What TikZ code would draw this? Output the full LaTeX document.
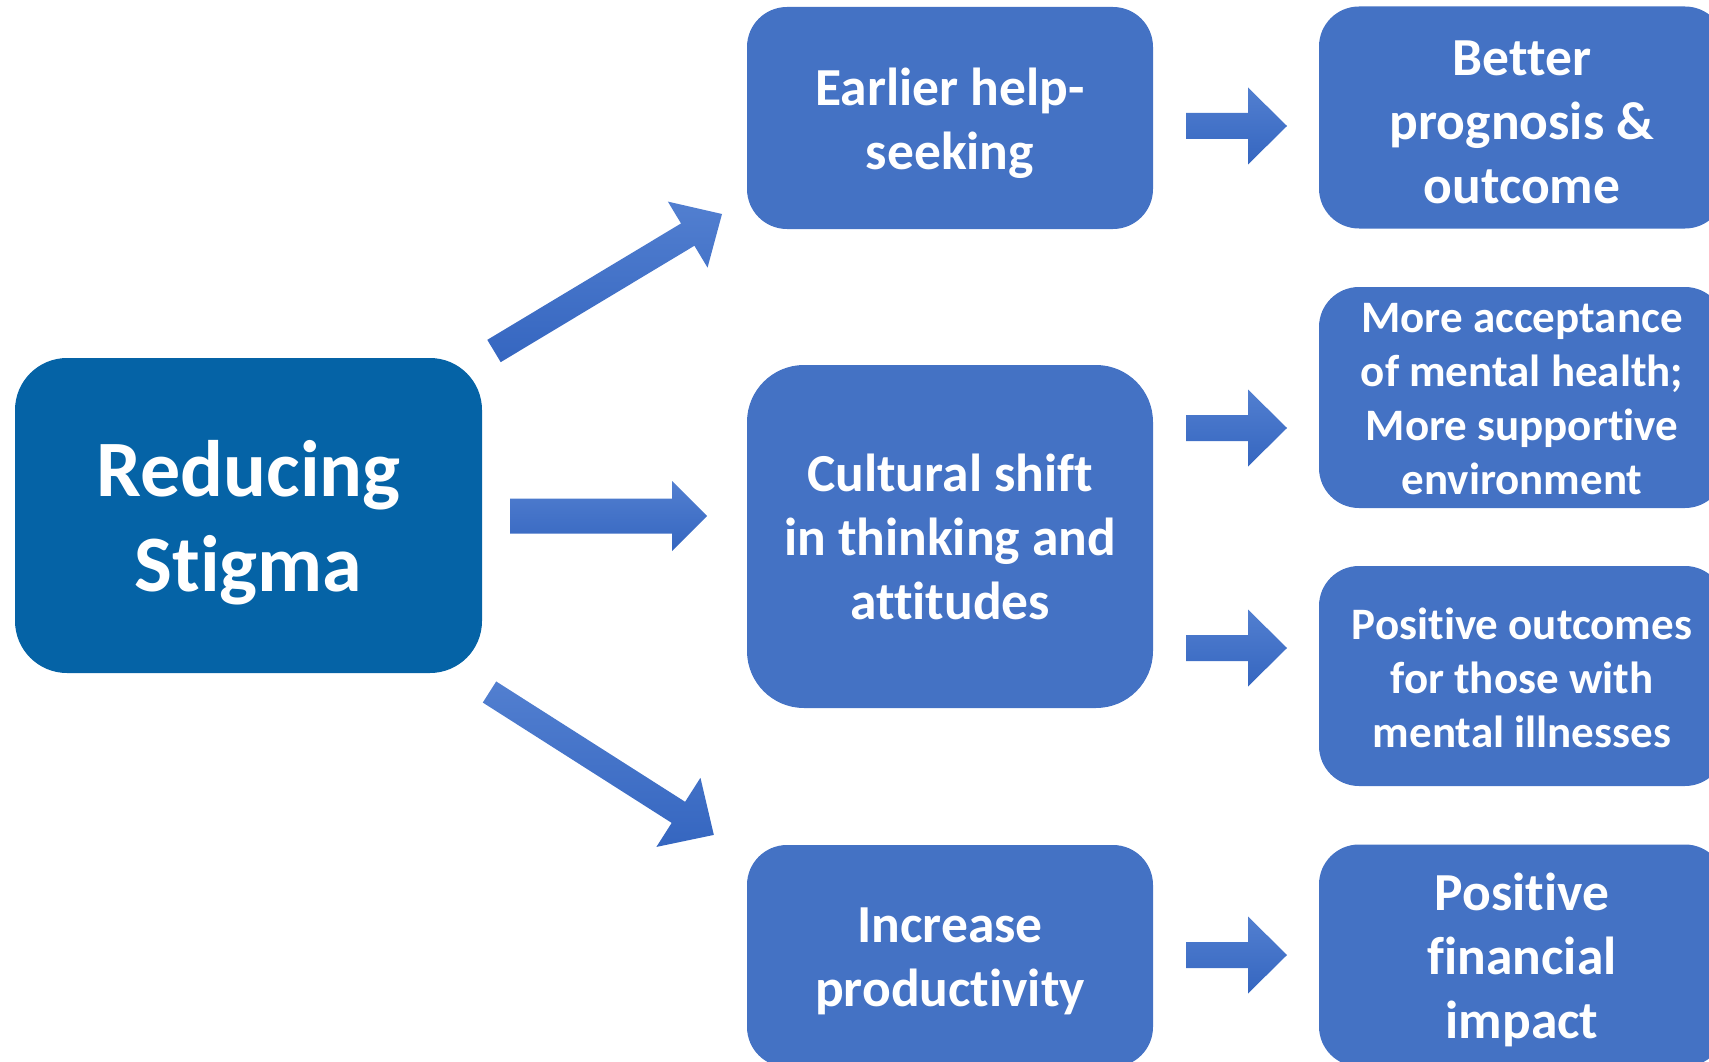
\documentclass[tikz,border=0pt]{standalone}
\usepackage{fontspec}
\setmainfont{Carlito}[Ligatures=NoCommon]
\definecolor{boxblue}{HTML}{4472C4}
\definecolor{mainblue}{HTML}{0563A6}
\definecolor{arrtop}{HTML}{527FD0}
\definecolor{arrbot}{HTML}{3566C0}
\newcommand\blockarrow[6]{% #1 tail, #2 angle, #3 length, #4 shaft half width, #5 head half width, #6 head length
  \begin{scope}[shift={(#1)}, rotate=#2]
    \shade[arrowfill] (0,-#4) -- (#3-#6,-#4) -- (#3-#6,-#5) -- (#3,0) -- (#3-#6,#5) -- (#3-#6,#4) -- (0,#4) -- cycle;
  \end{scope}}
\begin{document}
\begin{tikzpicture}[x=1pt,y=-1pt,
  arrowfill/.style={top color=arrtop, bottom color=arrbot, draw=none},
  card/.style={fill=boxblue, inner sep=0pt,
    minimum width=406pt, minimum height=222pt, rounded corners=40pt},
  maincard/.style={card, fill=mainblue, minimum width=467pt, minimum height=315pt,
    rounded corners=52pt},
  cardtext/.style={text=white, inner sep=0pt, align=center,
    font=\bfseries\fontsize{53.5}{64}\selectfont},
  smalltext/.style={cardtext, font=\bfseries\fontsize{45}{54}\selectfont},
  maintext/.style={cardtext, font=\bfseries\fontsize{80}{95}\selectfont}]
\useasboundingbox (0,0) rectangle (1709,1062);
\clip (0,0) rectangle (1709,1062);

% boxes
\node[maincard] (red) at (248.5,515.5) {};
\node[card] (early) at (950,118) {};
\node[card, minimum height=343pt, rounded corners=57pt] (cult) at (950,536.5) {};
\node[card] (incr) at (950,956) {};
\node[card] (better) at (1522,117.5) {};
\node[card, minimum height=221pt] (accept) at (1522,397.5) {};
\node[card, minimum height=220pt] (posout) at (1522,676) {};
\node[card] (fin) at (1522,955.5) {};

% texts
\node[maintext, yshift=-7.5pt] (red-t) at (red.center) {Reducing\\Stigma};
\node[cardtext, yshift=-5.5pt] (early-t) at (early.center) {Earlier help-\\seeking};
\node[cardtext, yshift=-0.5pt] (cult-t) at (cult.center) {Cultural shift\\in thinking and\\attitudes};
\node[cardtext, yshift=-5.5pt] (incr-t) at (incr.center) {Increase\\productivity};
\node[cardtext, yshift=-4.5pt] (better-t) at (better.center) {Better\\prognosis \&\\outcome};
\node[smalltext, yshift=-2pt] (accept-t) at (accept.center) {More acceptance\\of mental health;\\More supportive\\environment};
\node[smalltext, yshift=-2pt] (posout-t) at (posout.center) {Positive outcomes\\for those with\\mental illnesses};
\node[cardtext, yshift=-4.5pt] (fin-t) at (fin.center) {Positive\\financial\\impact};

% arrow tails
\coordinate (tUp) at (494,351);
\coordinate (tMid) at (510,516);
\coordinate (tDown) at (489.5,692);
\coordinate (tA) at (1186,126);
\coordinate (tB) at (1186,428);
\coordinate (tC) at (1186,648);
\coordinate (tD) at (1186,955);

\blockarrow{tUp}{31}{266}{13}{38.5}{40}
\blockarrow{tMid}{0}{197}{17.5}{35}{35}
\blockarrow{tDown}{-32.5}{266}{12.5}{41}{42}
\blockarrow{tA}{0}{101}{13}{38.5}{39}
\blockarrow{tB}{0}{101}{13}{38.5}{39}
\blockarrow{tC}{0}{101}{13}{38.5}{39}
\blockarrow{tD}{0}{101}{13}{38.5}{39}
\end{tikzpicture}
\end{document}
